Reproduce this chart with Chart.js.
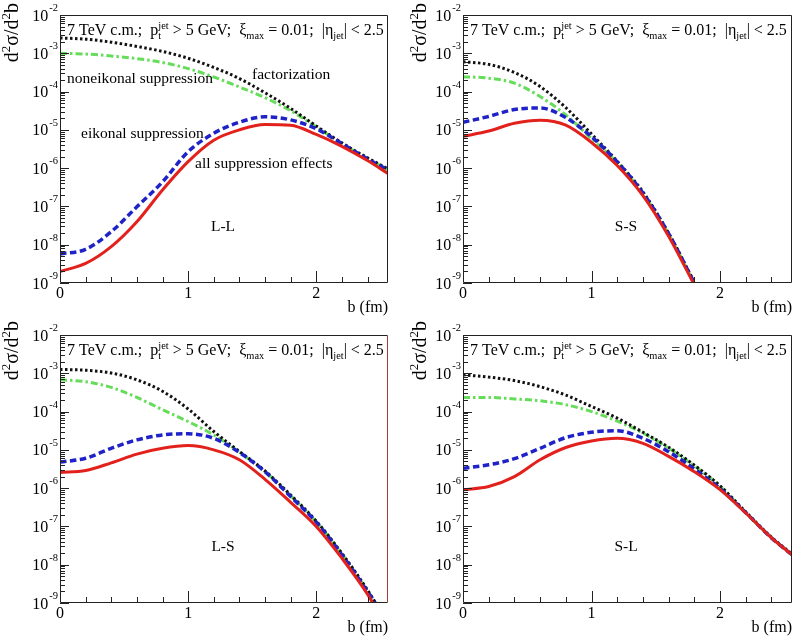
<!DOCTYPE html>
<html>
<head>
<meta charset="utf-8">
<script src="https://cdn.jsdelivr.net/npm/chart.js@4.4.1/dist/chart.umd.min.js"></script>
<style>
  html, body { margin: 0; padding: 0; background: #fff; }
  #wrap { position: relative; width: 793px; height: 637px; }
  .panel { position: absolute; }
</style>
</head>
<body>
<div id="wrap">
  <div class="panel" style="left:0;top:0;width:396px;height:318px"><canvas id="c-ll"></canvas></div>
  <div class="panel" style="left:396px;top:0;width:397px;height:318px"><canvas id="c-ss"></canvas></div>
  <div class="panel" style="left:0;top:318px;width:396px;height:319px"><canvas id="c-ls"></canvas></div>
  <div class="panel" style="left:396px;top:318px;width:397px;height:319px"><canvas id="c-sl"></canvas></div>
</div>
<script>
/* d2sigma/d2b vs impact parameter b, four beam-size combinations */

// ---- values ----
const bLL = [0, 0.2, 0.4, 0.6, 0.8, 1.0, 1.2, 1.4, 1.6, 1.8, 2.0, 2.2, 2.4, 2.56];
const llFactorization = [2.51e-3, 2.34e-3, 1.95e-3, 1.51e-3, 1.12e-3, 7.41e-4, 4.27e-4, 2.19e-4, 9.33e-5, 3.63e-5, 1.26e-5, 4.57e-6, 1.86e-6, 9.55e-7];
const llNoneikonal = [1.00e-3, 9.55e-4, 8.51e-4, 7.24e-4, 5.75e-4, 3.98e-4, 2.40e-4, 1.32e-4, 6.92e-5, 3.16e-5, 1.20e-5, 4.37e-6, 1.78e-6, 9.12e-7];
const llEikonal = [5.75e-9, 7.59e-9, 2.19e-8, 9.77e-8, 4.37e-7, 2.69e-6, 8.13e-6, 1.58e-5, 2.19e-5, 1.82e-5, 1.07e-5, 4.37e-6, 1.74e-6, 8.91e-7];
const llAll = [2.00e-9, 3.24e-9, 8.91e-9, 3.98e-8, 2.69e-7, 1.48e-6, 5.37e-6, 1.00e-5, 1.38e-5, 1.32e-5, 7.59e-6, 3.72e-6, 1.58e-6, 7.24e-7];

const bSS = [0, 0.2, 0.4, 0.6, 0.8, 1.0, 1.2, 1.4, 1.6, 1.8];
const ssFactorization = [6.03e-4, 5.13e-4, 3.16e-4, 1.35e-4, 3.80e-5, 7.76e-6, 1.51e-6, 2.40e-7, 2.00e-8, 1.05e-9];
const ssNoneikonal = [2.45e-4, 2.24e-4, 1.66e-4, 7.41e-5, 2.45e-5, 5.89e-6, 1.38e-6, 2.19e-7, 1.91e-8, 1.00e-9];
const ssEikonal = [1.58e-5, 2.24e-5, 3.39e-5, 3.72e-5, 2.09e-5, 6.61e-6, 1.45e-6, 2.24e-7, 1.95e-8, 1.00e-9];
const ssAll = [6.76e-6, 9.33e-6, 1.48e-5, 1.78e-5, 1.32e-5, 4.68e-6, 1.17e-6, 1.91e-7, 1.66e-8, 8.91e-10];

const bLS = [0, 0.2, 0.4, 0.6, 0.8, 1.0, 1.2, 1.4, 1.6, 1.8, 2.0, 2.2, 2.4, 2.5];
const lsFactorization = [1.26e-3, 1.20e-3, 1.02e-3, 6.76e-4, 3.39e-4, 1.17e-4, 3.02e-5, 9.12e-6, 2.82e-6, 6.61e-7, 1.38e-7, 2.00e-8, 2.19e-9, 6.31e-10];
const lsNoneikonal = [6.76e-4, 6.03e-4, 4.27e-4, 2.34e-4, 1.12e-4, 5.50e-5, 2.45e-5, 8.71e-6, 2.69e-6, 6.31e-7, 1.32e-7, 1.91e-8, 2.09e-9, 6.31e-10];
const lsEikonal = [4.79e-6, 6.03e-6, 1.10e-5, 1.82e-5, 2.45e-5, 2.63e-5, 2.00e-5, 8.51e-6, 2.69e-6, 6.03e-7, 1.29e-7, 1.82e-8, 2.00e-9, 6.31e-10];
const lsAll = [2.57e-6, 2.88e-6, 4.57e-6, 7.76e-6, 1.10e-5, 1.29e-5, 1.00e-5, 5.50e-6, 1.70e-6, 4.27e-7, 1.00e-7, 1.48e-8, 1.70e-9, 4.47e-10];

const bSL = [0, 0.2, 0.4, 0.6, 0.8, 1.0, 1.2, 1.4, 1.6, 1.8, 2.0, 2.2, 2.4, 2.56];
const slFactorization = [9.12e-4, 7.94e-4, 6.46e-4, 4.47e-4, 2.69e-4, 1.35e-4, 6.76e-5, 2.88e-5, 1.17e-5, 3.98e-6, 1.15e-6, 2.40e-7, 5.25e-8, 1.91e-8];
const slNoneikonal = [2.34e-4, 2.34e-4, 2.14e-4, 1.91e-4, 1.51e-4, 1.00e-4, 5.62e-5, 2.75e-5, 1.10e-5, 3.80e-6, 1.12e-6, 2.29e-7, 5.01e-8, 1.82e-8];
const slEikonal = [3.31e-6, 4.07e-6, 5.89e-6, 1.10e-5, 2.09e-5, 2.88e-5, 3.16e-5, 2.00e-5, 8.91e-6, 3.16e-6, 9.77e-7, 2.29e-7, 5.01e-8, 1.82e-8];
const slAll = [9.12e-7, 1.10e-6, 2.00e-6, 5.50e-6, 1.15e-5, 1.70e-5, 2.00e-5, 1.48e-5, 6.76e-6, 2.69e-6, 9.12e-7, 2.24e-7, 5.01e-8, 1.82e-8];

// axis ticks / labels
const yDecadeExponents = [-2, -3, -4, -5, -6, -7, -8, -9];
const xTickValues = [0, 1, 2];
const xTickLabels = ["0", "1", "2"];
const xTitle = "b (fm)";
const B_MAX = 2.56;

// header and curve notes
const headerParts = [
  { t: "7 TeV c.m.;  p" }, { sup: "jet", sub: "t" }, { t: " > 5 GeV;  \u03be" }, { sub: "max" },
  { t: " = 0.01;  |\u03b7" }, { sub: "jet" }, { t: "| < 2.5" },
];
const yTitleParts = [{ t: "d" }, { sup: "2" }, { t: "\u03c3/d" }, { sup: "2" }, { t: "b" }];
const llNotes = [
  { text: "factorization", dx: 192, dy: 64 },
  { text: "noneikonal suppression", dx: 7, dy: 68 },
  { text: "eikonal suppression", dx: 21, dy: 123 },
  { text: "all suppression effects", dx: 135, dy: 153 },
];

const SERIF = '"Liberation Serif", "DejaVu Serif", serif';
const font = (px) => `${px}px ${SERIF}`;

function richWidth(ctx, parts, size) {
  let w = 0;
  parts.forEach((p) => {
    if (p.t != null) { ctx.font = font(size); w += ctx.measureText(p.t).width; }
    else {
      ctx.font = font(size * 0.65);
      w += Math.max(p.sup ? ctx.measureText(p.sup).width : 0, p.sub ? ctx.measureText(p.sub).width : 0);
    }
  });
  return w;
}

function drawRich(ctx, parts, x, y, size) {
  parts.forEach((p) => {
    if (p.t != null) {
      ctx.font = font(size);
      ctx.fillText(p.t, x, y);
      x += ctx.measureText(p.t).width;
    } else {
      ctx.font = font(size * 0.65);
      let w = 0;
      if (p.sup) { ctx.fillText(p.sup, x, y - size * 0.4); w = ctx.measureText(p.sup).width; }
      if (p.sub) { ctx.fillText(p.sub, x, y + size * 0.22); w = Math.max(w, ctx.measureText(p.sub).width); }
      x += w;
    }
  });
}

// ROOT-like frame, inward ticks, exponent labels and texts
function rootAxes(p) {
  return {
    id: "rootAxes",
    afterDatasetsDraw(chart) {
      const { ctx, chartArea: a, scales: { x, y } } = chart;
      ctx.save();
      ctx.strokeStyle = "#222";
      ctx.lineWidth = 1;

      // ticks on the log axis
      ctx.beginPath();
      yDecadeExponents.forEach((e) => {
        for (let m = 1; m <= 9; m++) {
          const v = m * Math.pow(10, e);
          if (v > 1.0001e-2) break;
          const py = Math.round(y.getPixelForValue(v)) + 0.5;
          const len = m === 1 ? 9 : 5;
          ctx.moveTo(a.left, py); ctx.lineTo(a.left + len, py);
        }
      });
      // ticks on b, every 0.2 fm
      for (let i = 1; i * 0.2 < B_MAX; i++) {
        const px = Math.round(x.getPixelForValue(i * 0.2)) + 0.5;
        const len = i % 5 === 0 ? 12 : 6;
        ctx.moveTo(px, a.bottom); ctx.lineTo(px, a.bottom - len);
      }
      ctx.stroke();

      // frame
      ctx.strokeStyle = "#222";
      ctx.beginPath();
      ctx.moveTo(a.right - 0.5, a.top + 0.5); ctx.lineTo(a.left + 0.5, a.top + 0.5);
      ctx.lineTo(a.left + 0.5, a.bottom - 0.5); ctx.lineTo(a.right - 0.5, a.bottom - 0.5);
      ctx.stroke();
      ctx.strokeStyle = p.rightEdge || "#222";
      ctx.beginPath();
      ctx.moveTo(a.right - 0.5, a.top + 0.5); ctx.lineTo(a.right - 0.5, a.bottom - 0.5);
      ctx.stroke();

      ctx.fillStyle = "#000";
      ctx.textBaseline = "alphabetic";

      // y labels 10^e
      yDecadeExponents.forEach((e) => {
        const py = y.getPixelForValue(Math.pow(10, e));
        ctx.font = font(10.5);
        const sup = String(e);
        const sw = ctx.measureText(sup).width;
        ctx.font = font(16);
        const bw = ctx.measureText("10").width;
        const right = a.left - 2;
        ctx.fillText("10", right - sw - bw - 1, py + 5.5);
        ctx.font = font(10.5);
        ctx.fillText(sup, right - sw, py - 4);
      });

      // x labels
      ctx.font = font(16);
      ctx.textAlign = "center";
      xTickValues.forEach((v, i) => ctx.fillText(xTickLabels[i], x.getPixelForValue(v), a.bottom + 15));
      ctx.textAlign = "right";
      ctx.fillText(xTitle, a.right, a.bottom + 29);
      ctx.textAlign = "left";

      // y title, rotated, ending at the top of the axis
      ctx.save();
      ctx.translate(a.left - p.titleGap, 3);
      ctx.rotate(-Math.PI / 2);
      const tw = richWidth(ctx, yTitleParts, 20);
      drawRich(ctx, yTitleParts, -tw, 0, 20);
      ctx.restore();

      // header
      drawRich(ctx, headerParts, a.left + 7, a.top + 20, 16);

      // notes and panel label
      ctx.font = font(15.5);
      (p.notes || []).forEach((n) => ctx.fillText(n.text, a.left + n.dx, a.top + n.dy));
      ctx.textAlign = "center";
      ctx.fillText(p.label, a.left + 163, a.top + 216);
      ctx.restore();
    },
  };
}

function series(b, values, color, dash, width) {
  return {
    data: b.map((v, i) => ({ x: v, y: values[i] })),
    borderColor: color,
    borderWidth: width,
    borderDash: dash,
    borderCapStyle: "butt",
    pointRadius: 0,
    cubicInterpolationMode: "monotone",
    fill: false,
    clip: 0,
  };
}

const panels = [
  { id: "c-ll", label: "L-L", b: bLL, fact: llFactorization, non: llNoneikonal, eik: llEikonal, all: llAll,
    pad: { left: 60, right: 8, top: 15, bottom: 35 }, titleGap: 42, notes: llNotes },
  { id: "c-ss", label: "S-S", b: bSS, fact: ssFactorization, non: ssNoneikonal, eik: ssEikonal, all: ssAll,
    pad: { left: 67, right: 1, top: 15, bottom: 35 }, titleGap: 37 },
  { id: "c-ls", label: "L-S", b: bLS, fact: lsFactorization, non: lsNoneikonal, eik: lsEikonal, all: lsAll,
    pad: { left: 60, right: 8, top: 17, bottom: 34 }, titleGap: 42, rightEdge: "#9a3f36" },
  { id: "c-sl", label: "S-L", b: bSL, fact: slFactorization, non: slNoneikonal, eik: slEikonal, all: slAll,
    pad: { left: 67, right: 1, top: 17, bottom: 34 }, titleGap: 37 },
];

panels.forEach((p) => {
  new Chart(document.getElementById(p.id), {
    type: "line",
    data: {
      datasets: [
        series(p.b, p.all, "#e3211c", [], 3),
        series(p.b, p.eik, "#1f22c6", [6.5, 3.5], 3.5),
        series(p.b, p.fact, "#111111", [2.5, 2.5], 3),
        series(p.b, p.non, "#66dd5a", [7, 3, 2.5, 3], 3),
      ],
    },
    options: {
      animation: false, responsive: true, maintainAspectRatio: false,
      layout: { padding: p.pad },
      plugins: { legend: { display: false }, tooltip: { enabled: false } },
      scales: {
        x: { type: "linear", display: false, min: 0, max: B_MAX },
        y: { type: "logarithmic", display: false, min: 1e-9, max: 1e-2 },
      },
    },
    plugins: [rootAxes(p)],
  });
});
</script>
</body>
</html>
